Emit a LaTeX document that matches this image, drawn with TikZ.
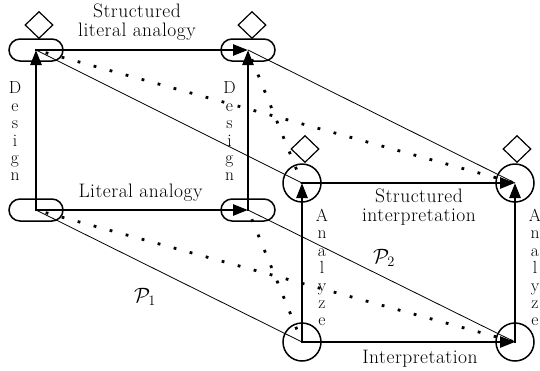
\documentclass[tikz,border=0pt]{standalone}
\usepackage{fontspec}
\newfontfamily\lsp[LetterSpace=2.5]{Latin Modern Roman}
\usetikzlibrary{arrows.meta,shapes.geometric,shapes.misc}
\begin{document}
\begin{tikzpicture}[x=1pt,y=-1pt,
  stadium/.style={draw,rounded rectangle,line width=1.5pt,minimum width=54pt,minimum height=22pt,inner sep=0pt},
  ring/.style={draw,circle,line width=1.5pt,minimum size=38pt,inner sep=0pt},
  dia/.style={draw,diamond,line width=1.2pt,minimum width=28pt,minimum height=27pt,inner sep=0pt},
  bigarrow/.style={line width=2.6pt,line cap=rect,-{Triangle[length=15pt,width=11pt]}},
  thinlink/.style={line width=0.8pt},
  dotlink/.style={line width=2.8pt,dash pattern=on 2.8pt off 13.8pt,dash phase=-10pt},
  lbl/.style={font=\fontsize{19.5}{18.7}\selectfont\lsp, align=center, inner sep=0pt},
  vert/.style={font=\fontsize{17.5}{17.4}\selectfont\lsp, align=center, inner sep=0pt},
  mathlbl/.style={font=\fontsize{20}{22}\selectfont, inner sep=0pt}
]
\useasboundingbox (0,0) rectangle (540,370);

% corner nodes, left square (stadiums)
\node[stadium] (aTL) at (36,50) {};
\node[stadium] (aTR) at (248,50) {};
\node[stadium] (aBL) at (36,210) {};
\node[stadium] (aBR) at (248,210) {};
% corner nodes, right square (circles)
\node[ring] (bTL) at (302,183) {};
\node[ring] (bTR) at (515,183) {};
\node[ring] (bBL) at (302,342) {};
\node[ring] (bBR) at (515,342) {};
% diamonds
\node[dia] (dA) at (39,25) {};
\node[dia] (dB) at (252,25) {};
\node[dia] (dC) at (305,149) {};
\node[dia] (dD) at (517,149) {};

% thin links between corresponding corners
\draw[thinlink] (aTL.center) -- (bTL.center);
\draw[thinlink] (aTR.center) -- (bTR.center);
\draw[thinlink] (aBL.center) -- (bBL.center);
\draw[thinlink] (aBR.center) -- (bBR.center);

% dotted links
\draw[dotlink] (aTL.center) -- (bTR.center);
\draw[dotlink] (aTR.center) -- (bTL.center);
\draw[dotlink] (aBL.center) -- (bBR.center);
\draw[dotlink] (aBR.center) -- (bBL.center);

% thick arrows
\draw[bigarrow] (aBL.center) -- (aTL.center);
\draw[bigarrow] (aTL.center) -- (aTR.center);
\draw[bigarrow] (aBL.center) -- (aBR.center);
\draw[bigarrow] (aBR.center) -- (aTR.center);
\draw[bigarrow] (bBL.center) -- (bTL.center);
\draw[bigarrow] (bTL.center) -- (bTR.center);
\draw[bigarrow] (bBL.center) -- (bBR.center);
\draw[bigarrow] (bBR.center) -- (bTR.center);

% labels
\node[lbl] (t1) at (137,22.5) {Structured\\literal analogy};
\node[lbl,anchor=base] (t2) at (140.5,197) {Literal analogy};
\node[lbl] (t3) at (419,207.3) {Structured\\interpretation};
\node[lbl,anchor=base] (t4) at (420,363.3) {Interpretation};
\node[vert] (v1) at (15,131.5) {D\\e\\s\\i\\g\\n};
\node[vert] (v2) at (229.5,131.5) {D\\e\\s\\i\\g\\n};
\node[vert] (v3) at (322,267.5) {A\\n\\a\\l\\y\\z\\e};
\node[vert] (v4) at (535,267.5) {A\\n\\a\\l\\y\\z\\e};
\node[mathlbl] (p1) at (145,297) {$\mathcal{P}_1$};
\node[mathlbl] (p2) at (384,258) {$\mathcal{P}_2$};
\end{tikzpicture}
\end{document}
